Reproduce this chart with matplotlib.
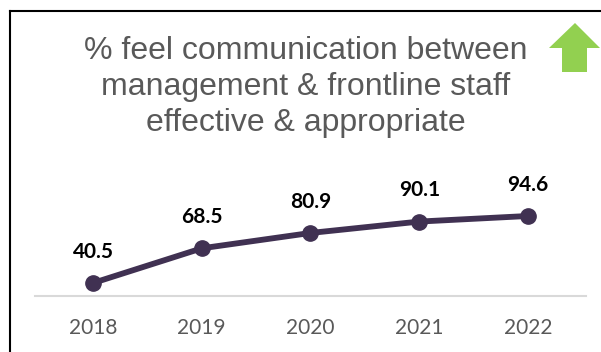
import matplotlib
matplotlib.use("Agg")
import matplotlib.pyplot as plt
from matplotlib.patches import Polygon
from matplotlib.lines import Line2D

years = ["2018", "2019", "2020", "2021", "2022"]
values = [40.5, 68.5, 80.9, 90.1, 94.6]
title = "% feel communication between\nmanagement & frontline staff\neffective & appropriate"

W, H = 601, 352
fig = plt.figure(figsize=(W / 100, H / 100), dpi=100)
fig.patch.set_facecolor("white")

# plot area
ax = fig.add_axes([35 / W, (H - 296) / H, 551 / W, 86.7 / H])
x = list(range(len(years)))
ax.plot(x, values, color="#403152", lw=4.2, marker="o", markersize=11,
        solid_capstyle="round", clip_on=False, zorder=3)
for xi, v in zip(x, values):
    ax.annotate(f"{v:.1f}", (xi, v), xytext=(0, 22.5), textcoords="offset points",
                ha="center", va="center", fontsize=15, fontweight="bold",
                family="Lato", color="black")
ax.set_xlim(-0.533, 4.533)
ax.set_ylim(30, 100)
ax.set_xticks(x)
ax.set_xticklabels(years, fontsize=15, family="Lato", color="#595959")
ax.tick_params(axis="x", length=0, pad=16)
ax.set_yticks([])
for s in ["top", "left", "right"]:
    ax.spines[s].set_visible(False)
ax.spines["bottom"].set_color("#d9d9d9")
ax.spines["bottom"].set_linewidth(1.5)
ax.patch.set_alpha(0)

# title
fig.text(306 / W, 1 - 87 / H, title, ha="center", va="center", fontsize=23,
         family="Liberation Sans", color="#595959", linespacing=1.24)

# outer frame (top and left edges)
fig.add_artist(Line2D([10 / W, 1.0], [1 - 11 / H, 1 - 11 / H], color="black", lw=1.5,
                      transform=fig.transFigure))
fig.add_artist(Line2D([10 / W, 10 / W], [1 - 11 / H, 0], color="black", lw=1.5,
                      transform=fig.transFigure))

# green up arrow
pts = [(575, 23), (600, 48), (587, 48), (587, 72), (562, 72), (562, 48), (549, 48)]
arrow = Polygon([(px / W, 1 - py / H) for px, py in pts], closed=True,
                facecolor="#92D050", edgecolor="none", transform=fig.transFigure)
fig.add_artist(arrow)

fig.savefig("out.png", dpi=100)
